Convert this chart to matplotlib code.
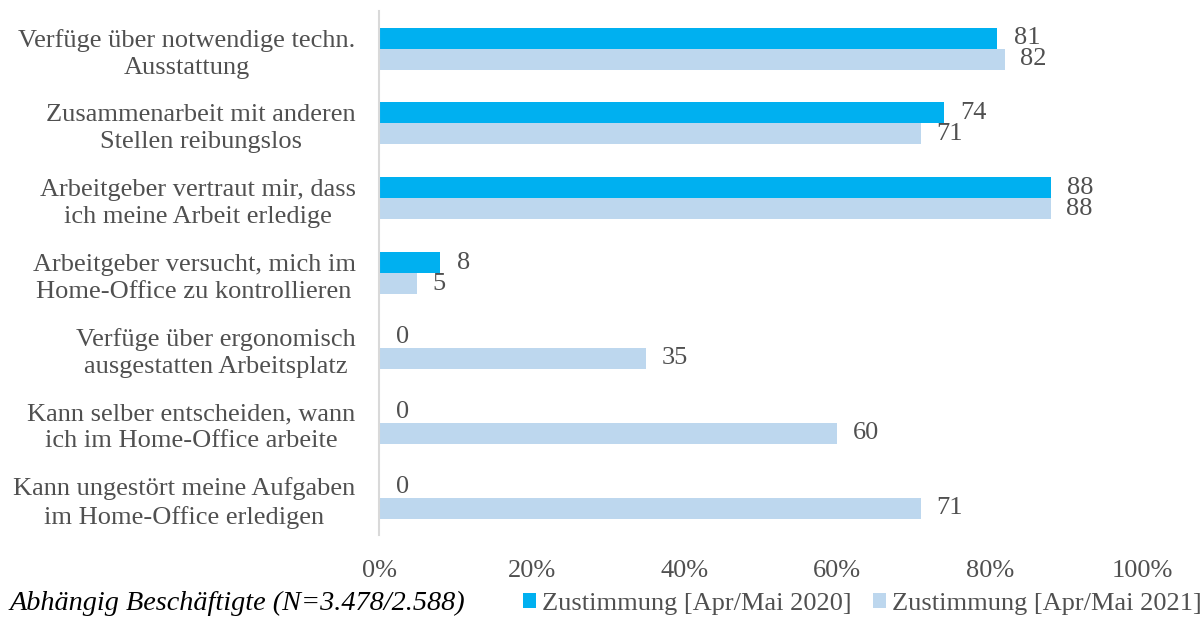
import matplotlib.pyplot as plt
import numpy as np

plt.rcParams['font.family'] = ['Liberation Serif', 'DejaVu Serif']

categories = [
    "Verfüge über notwendige techn.\nAusstattung",
    "Zusammenarbeit mit anderen\nStellen reibungslos",
    "Arbeitgeber vertraut mir, dass\nich meine Arbeit erledige",
    "Arbeitgeber versucht, mich im\nHome-Office zu kontrollieren",
    "Verfüge über ergonomisch\nausgestatten Arbeitsplatz",
    "Kann selber entscheiden, wann\nich im Home-Office arbeite",
    "Kann ungestört meine Aufgaben\nim Home-Office erledigen",
]
values_2020 = [81, 74, 88, 8, 0, 0, 0]
values_2021 = [82, 71, 88, 5, 35, 60, 71]
series_names = ["Zustimmung [Apr/Mai 2020]", "Zustimmung [Apr/Mai 2021]"]
xticks = [0, 20, 40, 60, 80, 100]

c2020 = '#00B0F0'
c2021 = '#BDD7EE'
txt = '#505050'
fs = 19

fig = plt.figure(figsize=(12, 6.2), dpi=100)
ax = fig.add_axes([0.316, 0.137, 0.636, 0.845])

y = np.arange(len(categories))
h = 0.28
ax.barh(y - h / 2, values_2020, height=h, color=c2020, label=series_names[0])
ax.barh(y + h / 2, values_2021, height=h, color=c2021, label=series_names[1])

for yi, v in zip(y, values_2020):
    ax.annotate(f"{v}", (v, yi - h / 2), xytext=(12, 0), textcoords='offset points',
                ha='left', va='center', fontsize=fs, color=txt)
for yi, v in zip(y, values_2021):
    ax.annotate(f"{v}", (v, yi + h / 2), xytext=(11, 0), textcoords='offset points',
                ha='left', va='center', fontsize=fs, color=txt)

ax.set_xlim(0, 100)
ax.set_ylim(len(categories) - 0.5, -0.5)
ax.set_yticks(y)
ax.set_yticklabels(categories, fontsize=fs, color=txt, multialignment='center',
                   linespacing=1.3)
ax.set_xticks(xticks)
ax.set_xticklabels([f"{t}%" for t in xticks], fontsize=fs, color=txt)
ax.tick_params(axis='both', length=0)
ax.tick_params(axis='y', pad=17)
ax.tick_params(axis='x', pad=18)
for s in ['top', 'right', 'bottom']:
    ax.spines[s].set_visible(False)
ax.spines['left'].set_color('#D9D9D9')
ax.spines['left'].set_linewidth(1.5)

fig.text(0.008, 0.026, "Abhängig Beschäftigte (N=3.478/2.588)", fontsize=20.3,
         style='italic', color='black', va='center')
fig.legend(loc='center left', bbox_to_anchor=(0.436, 0.026), ncol=2, frameon=False,
           fontsize=fs, handlelength=0.5, handleheight=0.5, handletextpad=0.22,
           columnspacing=0.8, labelcolor=txt, borderpad=0, borderaxespad=0)

fig.savefig("out.png", dpi=100)
